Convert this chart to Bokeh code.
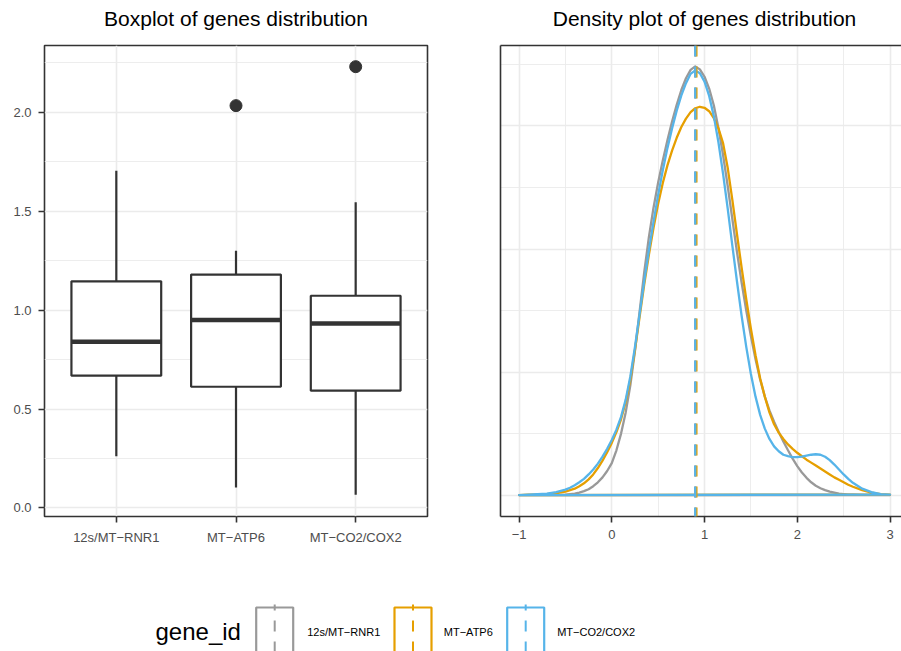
from bokeh.plotting import figure
from bokeh.layouts import column, row
from bokeh.models import Range1d, FixedTicker, LinearAxis, Span
from bokeh.embed import file_html
from bokeh.resources import INLINE

# ---- data -------------------------------------------------------------
genes = ["12s/MT\u2212RNR1", "MT\u2212ATP6", "MT\u2212CO2/COX2"]
gene_colors = ["#999999", "#E69F00", "#56B4E9"]
panel_titles = ["Boxplot of genes distribution", "Density plot of genes distribution"]

# boxplot statistics per gene
box_q1 = [0.669, 0.613, 0.593]
box_median = [0.841, 0.950, 0.933]
box_q3 = [1.146, 1.180, 1.073]
whisker_low = [0.261, 0.103, 0.067]
whisker_high = [1.705, 1.300, 1.545]
outlier_gene = [2, 3]            # 1-based gene index
outlier_value = [2.034, 2.231]

# kernel density estimates evaluated on a common grid
density_x = [-1.0, -0.9, -0.8, -0.7, -0.6,
             -0.5, -0.45, -0.4, -0.35, -0.3, -0.25, -0.2, -0.15, -0.1, -0.05,
             0.0, 0.05, 0.1, 0.15, 0.2, 0.25, 0.3, 0.35, 0.4, 0.45,
             0.5, 0.55, 0.6, 0.65, 0.7, 0.75, 0.8, 0.85, 0.9, 0.95,
             1.0, 1.05, 1.1, 1.15, 1.2, 1.25, 1.3, 1.35, 1.4, 1.45,
             1.5, 1.55, 1.6, 1.65, 1.7, 1.75, 1.8, 1.85, 1.9, 1.95,
             2.0, 2.05, 2.1, 2.15, 2.2, 2.25, 2.3, 2.35, 2.4, 2.45,
             2.5, 2.55, 2.6, 2.7, 2.8, 2.9, 3.0]
density_rnr1 = [0.000, 0.000, 0.000, 0.000, 0.000,
                0.001, 0.002, 0.003, 0.005, 0.008, 0.012, 0.018, 0.026, 0.036, 0.049,
                0.065, 0.091, 0.125, 0.168, 0.223, 0.293, 0.373, 0.453, 0.524, 0.584,
                0.635, 0.680, 0.721, 0.759, 0.793, 0.823, 0.847, 0.864, 0.871, 0.865,
                0.850, 0.826, 0.792, 0.746, 0.691, 0.628, 0.561, 0.494, 0.432, 0.375,
                0.323, 0.276, 0.235, 0.200, 0.172, 0.149, 0.128, 0.109, 0.091, 0.074,
                0.059, 0.046, 0.035, 0.026, 0.019, 0.014, 0.010, 0.007, 0.005, 0.003,
                0.002, 0.001, 0.001, 0.000, 0.000, 0.000, 0.000]
density_atp6 = [0.000, 0.001, 0.001, 0.002, 0.004,
                0.007, 0.010, 0.013, 0.018, 0.024, 0.032, 0.042, 0.055, 0.070, 0.087,
                0.106, 0.128, 0.154, 0.189, 0.235, 0.295, 0.362, 0.428, 0.488, 0.543,
                0.592, 0.634, 0.670, 0.700, 0.726, 0.748, 0.765, 0.778, 0.786, 0.789,
                0.787, 0.780, 0.766, 0.745, 0.715, 0.665, 0.600, 0.530, 0.462, 0.398,
                0.338, 0.284, 0.237, 0.200, 0.168, 0.144, 0.127, 0.114, 0.103, 0.094,
                0.086, 0.079, 0.072, 0.066, 0.060, 0.054, 0.048, 0.042, 0.036, 0.031,
                0.026, 0.021, 0.017, 0.010, 0.005, 0.002, 0.001]
density_cox2 = [0.000, 0.001, 0.002, 0.003, 0.006,
                0.011, 0.015, 0.020, 0.026, 0.033, 0.042, 0.052, 0.064, 0.078, 0.094,
                0.112, 0.133, 0.159, 0.194, 0.241, 0.301, 0.368, 0.435, 0.497, 0.555,
                0.610, 0.660, 0.705, 0.745, 0.781, 0.812, 0.837, 0.856, 0.863, 0.857,
                0.840, 0.811, 0.770, 0.717, 0.653, 0.582, 0.507, 0.434, 0.364, 0.301,
                0.246, 0.200, 0.163, 0.135, 0.114, 0.099, 0.089, 0.082, 0.079, 0.077,
                0.077, 0.078, 0.080, 0.082, 0.083, 0.082, 0.078, 0.071, 0.062, 0.052,
                0.042, 0.033, 0.025, 0.013, 0.006, 0.002, 0.001]
density_series = [density_rnr1, density_atp6, density_cox2]
gene_means = [0.900, 0.913, 0.900]

# ---- shared styling ---------------------------------------------------
FONT = "Liberation Sans"
INK = "#333333"
GRID = "#EBEBEB"
TICK_TEXT = "#4D4D4D"
DASH = "11 10"
TITLE_H = 40        # height of the strip holding the panel titles
PANEL_H = 520
TOP_GAP = 5         # space between the title strip and the panel frames


def style_axis(ax):
    ax.axis_line_color = None
    ax.major_tick_line_color = INK
    ax.major_tick_line_width = 1.6
    ax.major_tick_out = 6
    ax.major_tick_in = 0
    ax.minor_tick_line_color = None
    ax.major_label_text_font = FONT
    ax.major_label_text_font_size = "13px"
    ax.major_label_text_color = TICK_TEXT
    ax.major_label_standoff = 7


def strip(width, height):
    """A blank canvas measured in pixels, used for titles and the legend."""
    s = figure(width=width, height=height, x_range=Range1d(0, width),
               y_range=Range1d(height, 0), output_backend="svg",
               toolbar_location=None, min_border=0)
    s.axis.visible = False
    s.grid.visible = False
    s.outline_line_color = None
    return s


# ---- panel titles ----------------------------------------------------
pt = strip(901, TITLE_H)
pt.text(x=[235.5, 704], y=[18.3, 18.3], text=panel_titles, text_align="center",
        text_baseline="middle", text_font={"value": FONT}, text_font_size="21px",
        text_color="#000000")

# ---- left panel: boxplot ---------------------------------------------
positions = [i + 1 for i in range(len(genes))]
box_width = 0.75

p1 = figure(width=470, height=PANEL_H, x_range=Range1d(0.4, 3.6),
            y_range=Range1d(-0.043, 2.338), output_backend="svg",
            toolbar_location=None, min_border_left=44, min_border_right=43,
            min_border_top=TOP_GAP, min_border_bottom=44)
p1.background_fill_color = "white"
p1.border_fill_color = "white"
p1.outline_line_color = INK
p1.outline_line_width = 1.6

p1.xaxis.ticker = FixedTicker(ticks=positions)
p1.xaxis.major_label_overrides = {pos: g for pos, g in zip(positions, genes)}
p1.yaxis.ticker = FixedTicker(ticks=[0, 0.5, 1.0, 1.5, 2.0],
                              minor_ticks=[0.25, 0.75, 1.25, 1.75, 2.25])
p1.yaxis.major_label_overrides = {0: "0.0", 0.5: "0.5", 1: "1.0", 1.5: "1.5", 2: "2.0"}
style_axis(p1.xaxis[0])
style_axis(p1.yaxis[0])
p1.xgrid.grid_line_color = GRID
p1.xgrid.grid_line_width = 1.6
p1.ygrid.grid_line_color = GRID
p1.ygrid.grid_line_width = 1.6
p1.ygrid.minor_grid_line_color = GRID
p1.ygrid.minor_grid_line_width = 0.9

p1.segment(x0=positions, x1=positions, y0=box_q3, y1=whisker_high,
           line_color=INK, line_width=2.2)
p1.segment(x0=positions, x1=positions, y0=box_q1, y1=whisker_low,
           line_color=INK, line_width=2.2)
p1.vbar(x=positions, width=box_width, bottom=box_q1, top=box_q3,
        fill_color="white", line_color=INK, line_width=2.2)
p1.segment(x0=[x - box_width / 2 for x in positions],
           x1=[x + box_width / 2 for x in positions],
           y0=box_median, y1=box_median, line_color=INK, line_width=4.5,
           line_cap="butt")
p1.scatter(x=outlier_gene, y=outlier_value, size=12, fill_color=INK,
           line_color=INK)

# ---- right panel: density plot ---------------------------------------
p2 = figure(width=431, height=PANEL_H, x_range=Range1d(-1.2, 3.124),
            y_range=Range1d(-0.0435, 0.9135), output_backend="svg",
            toolbar_location=None, min_border_left=30, min_border_right=0,
            min_border_top=TOP_GAP, min_border_bottom=44)
p2.outline_line_color = None
p2.background_fill_color = "white"
p2.border_fill_color = "white"

p2.xaxis.ticker = FixedTicker(ticks=[-1, 0, 1, 2, 3],
                              minor_ticks=[-0.5, 0.5, 1.5, 2.5])
p2.xaxis.major_label_overrides = {-1: "\u22121", 0: "0", 1: "1", 2: "2", 3: "3"}
style_axis(p2.xaxis[0])
# the density scale carries no labels: only the frame edge is drawn
p2.yaxis.ticker = FixedTicker(ticks=[])
p2.yaxis.major_tick_line_color = None
p2.yaxis.minor_tick_line_color = None
# left, bottom and top frame edges
p2.xaxis.axis_line_color = INK
p2.xaxis.axis_line_width = 1.6
p2.yaxis.axis_line_color = INK
p2.yaxis.axis_line_width = 1.6
top_edge = LinearAxis(ticker=FixedTicker(ticks=[]), major_tick_line_color=None,
                      minor_tick_line_color=None, axis_line_color=INK,
                      axis_line_width=1.6, major_tick_out=0, major_tick_in=0,
                      minor_tick_out=0, minor_tick_in=0, major_label_standoff=0,
                      axis_label_standoff=0)
p2.add_layout(top_edge, "above")

p2.xgrid.grid_line_color = GRID
p2.xgrid.grid_line_width = 1.6
p2.xgrid.minor_grid_line_color = GRID
p2.xgrid.minor_grid_line_width = 0.9
p2.ygrid.ticker = FixedTicker(ticks=[0, 0.25, 0.5, 0.75],
                              minor_ticks=[0.125, 0.375, 0.625, 0.875])
p2.ygrid.grid_line_color = GRID
p2.ygrid.grid_line_width = 1.6
p2.ygrid.minor_grid_line_color = GRID
p2.ygrid.minor_grid_line_width = 0.9

for dens, col in zip(density_series, gene_colors):
    p2.patch(x=density_x, y=dens, fill_alpha=0, line_color=col, line_width=2.3,
             line_join="round")

for m, col in zip(gene_means, gene_colors):
    p2.add_layout(Span(location=m, dimension="height", line_color=col,
                       line_width=2.2, line_dash=DASH))

# ---- legend strip ----------------------------------------------------
p3 = strip(901, 91)
key_left = [255.7, 394.0, 506.7]
key_w = 37
label_x = [306.7, 443.3, 556.7]
key_mid = [k + key_w / 2 for k in key_left]
p3.text(x=[155], y=[71], text=["gene_id"], text_font_size="24px",
        text_font={"value": FONT}, text_color="#000000",
        text_baseline="middle")
p3.quad(left=key_left, right=[k + key_w for k in key_left],
        top=[47] * 3, bottom=[100] * 3, fill_color=None,
        line_color=gene_colors, line_width=2.2)
p3.segment(x0=key_mid, x1=key_mid, y0=[44] * 3, y1=[100] * 3,
           line_color=gene_colors, line_width=2, line_dash=DASH,
           line_dash_offset=5)
p3.text(x=label_x, y=[71] * 3, text=genes, text_font_size="11px",
        text_font={"value": FONT}, text_color="#000000",
        text_baseline="middle")

layout = column(pt, row(p1, p2), p3)
open("out.html", "w").write(file_html(layout, INLINE))
